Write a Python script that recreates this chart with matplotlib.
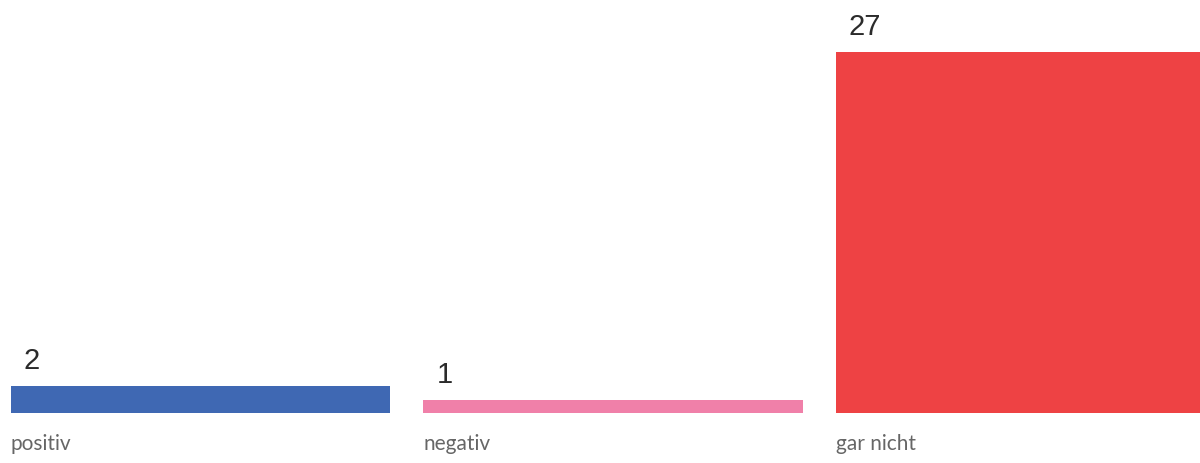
import matplotlib
matplotlib.use("Agg")
import matplotlib.pyplot as plt

categories = ["positiv", "negativ", "gar nicht"]
counts = [2, 1, 27]
colors = ["#3F68B3", "#F080A9", "#EE4244"]

fig = plt.figure(figsize=(12, 4.63), dpi=100)
ax = fig.add_axes([0, 50 / 463, 1, 413 / 463])

width = 0.919
xs = list(range(len(categories)))
ax.bar(xs, counts, width=width, color=colors, align="center")

ax.set_xlim(-0.486, 2.423)
ax.set_ylim(0, 30.89)
ax.axis("off")

for x, c, cat in zip(xs, counts, categories):
    left = x - width / 2
    ax.annotate(str(c), xy=(left, c), xytext=(13, 11), textcoords="offset pixels",
                ha="left", va="bottom", fontsize=21, color="#2b2b2b",
                family="Liberation Sans")
    ax.annotate(cat, xy=(left, 0), xytext=(0, -21), textcoords="offset pixels",
                ha="left", va="top", fontsize=15, color="#666666",
                family="Lato", annotation_clip=False)

fig.savefig("out.png", dpi=100)
